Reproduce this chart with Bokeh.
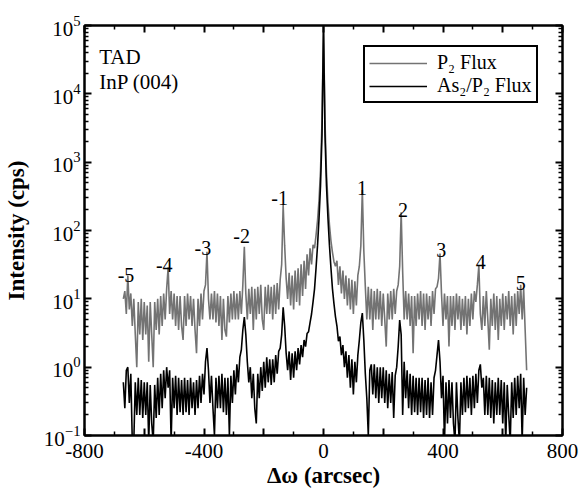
from bokeh.plotting import figure
from bokeh.models import (LogAxis, LinearAxis, FixedTicker, Label, Legend,
                          LegendItem, Range1d, ColumnDataSource,
                          CustomJSTickFormatter)
from bokeh.core.properties import value
from bokeh.embed import file_html
from bokeh.resources import INLINE

# scan positions (arcsec), 5 arcsec steps
omega = list(range(-670, 685, 5))

# P2 Flux sample (cps)
p2_flux = [
    10, 13, 6, 22, 7, 12, 4, 10, 3, 1.0,
    9, 3, 10, 2.5, 9, 3, 8, 1.2, 9, 3,
    1.0, 9, 3.5, 10, 3, 11, 4, 12, 5, 14,
    29, 6, 13, 5, 12, 4, 11, 3.5, 11, 4,
    2.5, 11, 4, 12, 5, 11, 4, 10, 3.5, 1.6,
    10, 4, 12, 5, 13, 16, 49, 10, 5, 12,
    5, 13, 4.5, 12, 4, 11, 2.5, 10, 3.5, 2.8,
    11, 4.5, 12, 5, 13, 5, 12, 5, 13, 6,
    16, 58, 12, 5, 14, 6, 15, 3.5, 14, 5,
    15, 6, 16, 5, 3.5, 15, 6, 16, 6, 15,
    5, 16, 6, 17, 7, 19, 32, 235, 60, 20,
    10, 24, 8, 22, 7, 26, 9, 28, 8, 32,
    11, 36, 14, 45, 22, 55, 32, 62, 55, 85,
    140, 280, 760, 4000, 100000, 4000, 700, 250, 120, 70,
    48, 35, 30, 36, 16, 30, 12, 26, 10, 22,
    8, 20, 7, 19, 6, 18, 8, 22, 30, 60,
    390, 50, 15, 5, 15, 5, 14, 3.5, 13, 5,
    14, 5, 13, 4, 12, 5, 2.0, 12, 5, 13,
    5, 14, 6, 13, 16, 30, 185, 25, 5, 13,
    5, 12, 4, 11, 1.6, 11, 4, 12, 5, 13,
    4, 12, 3.5, 12, 5, 11, 4, 13, 6, 14,
    15, 20, 46, 12, 4, 12, 5, 11, 2.0, 11,
    4, 11, 3.5, 12, 5, 11, 3.5, 10, 4, 11,
    3, 10, 4, 12, 5, 13, 9, 16, 31, 6,
    3.5, 11, 4, 13, 5, 1.8, 10, 4, 12, 3.5,
    11, 2.5, 10, 4, 12, 3.5, 11, 5, 13, 4,
    11, 3, 12, 4, 13, 6, 16, 5, 14, 3.5,
    0.9,
]

# As2/P2 Flux sample (cps)
as2p2_flux = [
    0.6, 0.25, 0.9, 1.0, 0.3, 0.8, 0.08, 0.08, 0.6, 0.2,
    0.7, 0.2, 0.65, 0.18, 0.6, 0.2, 0.6, 0.08, 0.55, 0.15,
    0.08, 0.55, 0.18, 0.7, 0.2, 0.8, 0.25, 0.9, 0.35, 1.0,
    0.5, 0.9, 0.08, 0.7, 0.25, 0.75, 0.2, 0.7, 0.22, 0.65,
    0.2, 0.7, 0.22, 0.65, 0.2, 0.7, 0.25, 0.6, 0.2, 0.65,
    0.25, 0.75, 0.3, 0.8, 0.4, 1.2, 1.9, 0.9, 0.3, 0.75,
    0.25, 0.1, 0.7, 0.25, 0.75, 0.25, 0.8, 0.22, 0.7, 0.2,
    0.7, 0.1, 0.75, 0.3, 0.9, 0.4, 1.1, 0.6, 1.4, 1.8,
    3.5, 5.4, 3.0, 1.2, 0.6, 1.0, 0.35, 0.8, 0.25, 0.15,
    0.8, 0.35, 1.0, 0.45, 1.2, 0.5, 1.4, 0.6, 1.3, 0.55,
    1.3, 0.6, 1.5, 0.8, 1.7, 1.9, 3.0, 7.5, 4.0, 1.6,
    0.9, 1.7, 0.65, 1.6, 0.7, 1.7, 0.9, 1.9, 1.1, 2.1,
    1.4, 2.5, 2.0, 3.1, 3.3, 4.5, 6.0, 9.0, 14, 28,
    60, 150, 450, 2500, 100000, 2500, 450, 150, 60, 28,
    14, 8.5, 5.5, 4.0, 2.4, 2.8, 1.5, 2.1, 1.0, 1.7,
    0.7, 1.5, 0.5, 1.3, 0.4, 1.2, 0.6, 1.5, 2.5, 4.5,
    6.2, 2.5, 0.8, 0.35, 0.1, 0.9, 1.1, 0.4, 1.1, 0.35,
    1.0, 0.3, 1.0, 0.35, 1.0, 0.3, 0.9, 0.25, 0.8, 0.3,
    0.85, 0.18, 0.75, 1.0, 2.0, 4.9, 3.0, 0.2, 1.2, 0.35,
    0.9, 0.25, 0.8, 0.2, 0.75, 0.22, 0.7, 0.2, 0.7, 0.22,
    0.7, 0.18, 0.65, 0.2, 0.7, 0.18, 0.6, 0.2, 0.7, 0.9,
    1.5, 2.5, 1.2, 0.35, 0.75, 0.08, 0.6, 0.15, 0.65, 0.18,
    0.6, 0.15, 0.08, 0.6, 0.18, 0.08, 0.6, 0.2, 0.7, 0.22,
    0.75, 0.25, 0.7, 0.2, 0.75, 0.25, 0.8, 0.3, 0.9, 1.1,
    0.5, 0.7, 0.2, 0.75, 0.2, 0.7, 0.18, 0.65, 0.15, 0.6,
    0.2, 0.7, 0.2, 0.65, 0.15, 0.6, 0.08, 0.55, 0.2, 0.08,
    0.6, 0.18, 0.7, 0.2, 0.75, 0.25, 0.8, 0.08, 0.7, 0.2,
    0.5,
]

# satellite peak order labels
peak_labels = ["-5", "-4", "-3", "-2", "-1", "1", "2", "3", "4", "5"]
peak_label_x = [-661, -533, -404, -274, -147, 129, 266, 394, 526, 660]
peak_label_y = [22.2, 31.1, 55.2, 82.8, 298, 418, 199, 51.6, 34.5, 17.0]

x_major = [-800, -600, -400, -200, 0, 200, 400, 600, 800]
x_minor = [-700, -500, -300, -100, 100, 300, 500, 700]
x_tick_text = {-800: "-800", -600: "", -400: "-400", -200: "", 0: "0",
               200: "", 400: "400", 600: "", 800: "800"}
y_major = [0.1, 1, 10, 100, 1000, 10000, 100000]
y_minor = [m * d for d in [0.1, 1, 10, 100, 1000, 10000] for m in range(2, 10)]

SERIF = "Liberation Serif"

p = figure(width=580, height=498, x_range=Range1d(-800, 800),
           y_range=Range1d(0.1, 1e5), y_axis_type="log",
           output_backend="svg", toolbar_location=None,
           min_border_left=83, min_border_right=18,
           min_border_top=25, min_border_bottom=63)
p.grid.visible = False
p.outline_line_color = "black"
p.outline_line_width = 2
p.background_fill_color = "white"
p.border_fill_color = "white"

src = ColumnDataSource(dict(x=omega, p2=p2_flux, asp=as2p2_flux))
r1 = p.line("x", "p2", source=src, line_color="#737373", line_width=1.6)
r2 = p.line("x", "asp", source=src, line_color="black", line_width=1.6)

legend = Legend(items=[LegendItem(label="P\u2082 Flux", renderers=[r1]),
                       LegendItem(label="As\u2082/P\u2082 Flux", renderers=[r2])],
                location=(279, 332))
legend.border_line_color = "black"
legend.border_line_alpha = 1.0
legend.border_line_width = 2
legend.padding = 4
legend.spacing = 0
legend.margin = 0
legend.label_standoff = 10
legend.glyph_width = 58
legend.glyph_height = 18
legend.label_text_font = SERIF
legend.label_text_font_size = "20px"
legend.label_text_color = "black"
legend.background_fill_alpha = 1.0
p.add_layout(legend)

def style_axis(ax, ticker):
    ax.ticker = ticker
    ax.axis_line_width = 2
    ax.axis_line_color = "black"
    ax.major_tick_in = 7
    ax.major_tick_out = 0
    ax.minor_tick_in = 4
    ax.minor_tick_out = 0
    ax.major_tick_line_width = 2
    ax.minor_tick_line_width = 1.5
    ax.major_tick_line_color = "black"
    ax.minor_tick_line_color = "black"
    ax.major_label_text_font = SERIF
    ax.major_label_text_font_size = "21px"
    ax.major_label_text_color = "black"
    ax.axis_label_text_font = SERIF
    ax.axis_label_text_font_style = "bold"
    ax.axis_label_text_font_size = "23px"
    ax.axis_label_text_color = "black"

xa = p.xaxis[0]
style_axis(xa, FixedTicker(ticks=x_major, minor_ticks=x_minor))
xa.major_label_overrides = x_tick_text
xa.major_label_standoff = 8
xa.axis_label = "\u0394\u03c9 (arcsec)"
xa.axis_label_standoff = 2

ya = p.yaxis[0]
style_axis(ya, FixedTicker(ticks=y_major, minor_ticks=y_minor))
ya.major_label_standoff = 4
ya.axis_label = "Intensity (cps)"
ya.axis_label_standoff = 12

top = LinearAxis()
style_axis(top, FixedTicker(ticks=x_major, minor_ticks=x_minor))
top.formatter = CustomJSTickFormatter(code="return ''")
top.major_label_standoff = 0
p.add_layout(top, "above")

right = LogAxis()
style_axis(right, FixedTicker(ticks=y_major, minor_ticks=y_minor))
right.formatter = CustomJSTickFormatter(code="return ''")
right.major_label_standoff = 0
p.add_layout(right, "right")

p.add_layout(Label(x=-751, y=34600, text="TAD", text_font=SERIF,
                   text_font_size="21px", text_baseline="alphabetic",
                   text_color="black"))
p.add_layout(Label(x=-751, y=15000, text="InP (004)", text_font=SERIF,
                   text_font_size="21px", text_baseline="alphabetic",
                   text_color="black"))

p.text(x=peak_label_x, y=peak_label_y, text=peak_labels,
       text_font=value(SERIF), text_font_size=value("20px"),
       text_align="center", text_baseline="alphabetic", text_color="black")

open("out.html", "w").write(file_html(p, INLINE))
